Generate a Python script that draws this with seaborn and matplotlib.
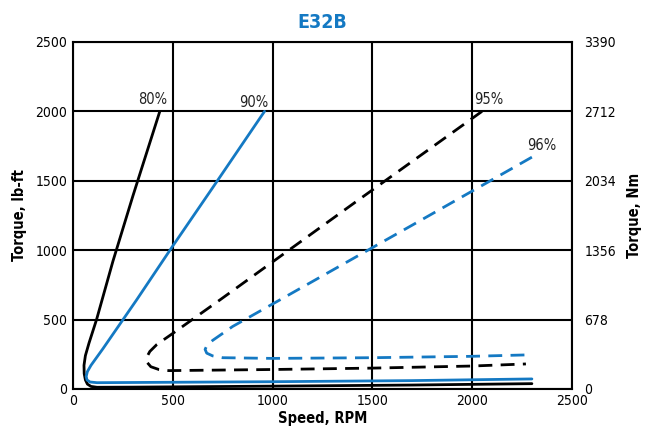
import pandas as pd
import matplotlib.pyplot as plt
import seaborn as sns

BLUE = '#1479c3'

# efficiency contours (speed RPM, torque lb-ft)
eff80_speed = [435, 300, 200, 118, 80, 62, 55, 56, 62, 72, 90, 120, 300, 1000, 1700, 2300]
eff80_torque = [2000, 1390, 920, 500, 330, 240, 170, 110, 65, 35, 18, 12, 13, 20, 28, 38]

eff90_speed = [960, 700, 500, 318, 150, 90, 72, 66, 70, 85, 120, 1000, 1700, 2300]
eff90_torque = [2000, 1450, 1030, 640, 290, 170, 125, 90, 65, 50, 45, 52, 60, 72]

eff95_speed = [2050, 1400, 735, 500, 420, 385, 370, 372, 390, 430, 480, 1000, 1500, 2000, 2270]
eff95_torque = [2000, 1330, 640, 400, 320, 270, 230, 190, 160, 140, 132, 140, 150, 165, 180]

eff96_speed = [2300, 1700, 1035, 800, 700, 672, 662, 670, 700, 750, 1000, 1500, 2000, 2270]
eff96_torque = [1670, 1180, 640, 450, 350, 315, 285, 258, 238, 225, 220, 225, 235, 245]

curve_names = ['80%', '90%', '95%', '96%']
label_speed = [400, 905, 2085, 2350]
label_torque = [2030, 2010, 2030, 1700]

x_ticks = [0, 500, 1000, 1500, 2000, 2500]
y_ticks = [0, 500, 1000, 1500, 2000, 2500]
nm_ticks = ['0', '678', '1356', '2034', '2712', '3390']

frames = []
for name, s, t in zip(curve_names,
                      [eff80_speed, eff90_speed, eff95_speed, eff96_speed],
                      [eff80_torque, eff90_torque, eff95_torque, eff96_torque]):
    frames.append(pd.DataFrame({'speed': s, 'torque': t, 'eff': name}))
df = pd.concat(frames, ignore_index=True)

sns.set_style('white')
plt.rcParams['font.family'] = ['DejaVu Sans']
plt.rcParams['font.stretch'] = 'condensed'
plt.rcParams['text.color'] = 'black'
plt.rcParams['axes.labelcolor'] = 'black'
plt.rcParams['xtick.color'] = 'black'
plt.rcParams['ytick.color'] = 'black'

fig = plt.figure(figsize=(6.52, 4.37), dpi=100)
ax = fig.add_axes([0.112, 0.110, 0.765, 0.794])

sns.lineplot(data=df, x='speed', y='torque', hue='eff', style='eff', sort=False,
             palette={'80%': 'black', '90%': BLUE, '95%': 'black', '96%': BLUE},
             dashes={'80%': '', '90%': '', '95%': (5, 3), '96%': (5, 3)},
             linewidth=2, legend=False, ax=ax, estimator=None)

for name, sx, ty in zip(curve_names, label_speed, label_torque):
    ax.text(sx, ty, name, ha='center', va='bottom', fontsize=10.5, color='#222222')

ax.set_xlim(0, 2500)
ax.set_ylim(0, 2500)
ax.set_xticks(x_ticks)
ax.set_yticks(y_ticks)
ax.grid(True, color='black', linewidth=1.5)
ax.tick_params(length=0, labelsize=10, pad=4)
for sp in ax.spines.values():
    sp.set_color('black')
    sp.set_linewidth(1.5)
ax.set_xlabel('Speed, RPM', fontsize=10.5, fontweight='bold', labelpad=2)
ax.set_ylabel('Torque, lb-ft', fontsize=10.5, fontweight='bold', labelpad=6)

ax2 = ax.twinx()
ax2.set_ylim(0, 2500)
ax2.set_yticks(y_ticks)
ax2.set_yticklabels(nm_ticks)
ax2.tick_params(length=0, labelsize=10, pad=9)
ax2.set_ylabel('Torque, Nm', fontsize=10.5, fontweight='bold', labelpad=8)
for sp in ax2.spines.values():
    sp.set_visible(False)

ax.set_title('E32B', color=BLUE, fontsize=14, fontweight='bold', pad=10)

fig.savefig('out.png', dpi=100)
